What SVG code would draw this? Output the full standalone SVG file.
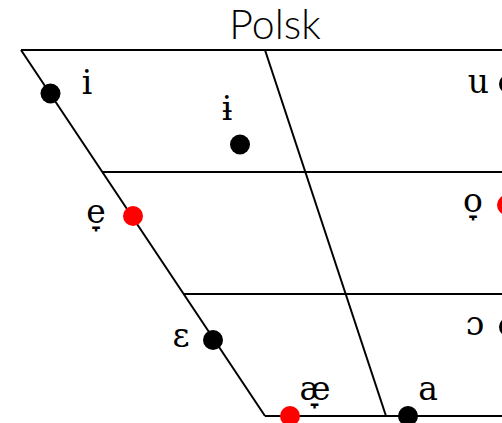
<svg xmlns="http://www.w3.org/2000/svg" width="502" height="423" viewBox="0 0 502 423">
<style>
.frame line{stroke:#000;stroke-width:2;fill:none}
.lbl{font-family:"DejaVu Serif",serif;font-size:33px;fill:#000;text-anchor:middle}
.title{font-family:Lato,"DejaVu Sans",sans-serif;font-weight:300;font-size:41px;fill:#000;text-anchor:middle}
.blk{fill:#000}
.red{fill:#ff0000}
</style>
<rect width="502" height="423" fill="#fff"/>
<text class="title" x="275" y="39">Polsk</text>
<g id="connectors" class="frame">
<line x1="21" y1="50" x2="502" y2="50"/>
<line x1="102.3" y1="172" x2="502" y2="172"/>
<line x1="183.7" y1="294" x2="502" y2="294"/>
<line x1="265" y1="416" x2="502" y2="416"/>
<line x1="21" y1="50" x2="265" y2="416"/>
<line x1="265" y1="50" x2="386" y2="416"/>
</g>
<g id="v-i"><circle class="blk" cx="50.5" cy="93.5" r="10"/><text class="lbl" x="87" y="94">i</text></g>
<g id="v-barred-i"><circle class="blk" cx="240" cy="144.5" r="10"/><text class="lbl" x="227" y="120">ɨ</text></g>
<g id="v-u"><circle class="blk" cx="509" cy="84" r="10"/><text class="lbl" x="478.5" y="93">u</text></g>
<g id="v-e"><circle class="red" cx="133" cy="216" r="10"/><text class="lbl" x="96" y="223">e̞</text></g>
<g id="v-o"><circle class="red" cx="507" cy="205" r="10"/><text class="lbl" x="473" y="212">o̞</text></g>
<g id="v-epsilon"><circle class="blk" cx="213" cy="340" r="10"/><text class="lbl" x="181" y="347">ɛ</text></g>
<g id="v-open-o"><circle class="blk" cx="509" cy="327" r="10"/><text class="lbl" x="475" y="335">ɔ</text></g>
<g id="v-ae"><circle class="red" cx="290" cy="416" r="10"/><text class="lbl" x="315" y="400">æ̞</text></g>
<g id="v-a"><circle class="blk" cx="408" cy="416" r="10"/><text class="lbl" x="428" y="400">a</text></g>
</svg>
